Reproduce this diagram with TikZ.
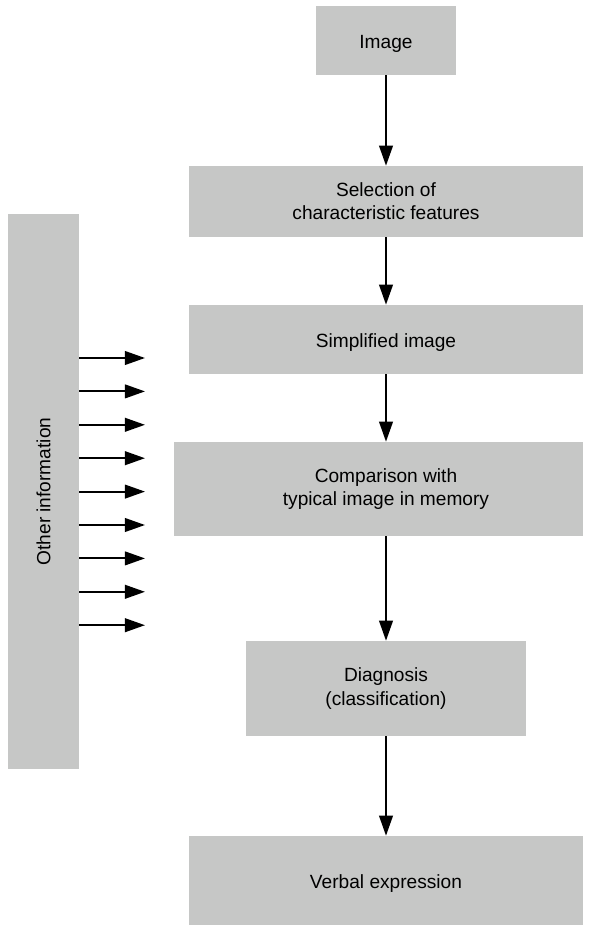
\documentclass[tikz,border=0pt]{standalone}
\usepackage{fontspec}
\setmainfont{Liberation Sans}
\usetikzlibrary{arrows.meta}
\definecolor{boxgray}{RGB}{198,199,198}

\begin{document}
\begin{tikzpicture}[x=0.025cm,y=-0.025cm,
    box/.style={fill=boxgray,inner sep=0pt,align=center,
                font=\fontsize{13.6}{16.5}\selectfont},
    single/.style={text height=12pt,text depth=1.2pt},
    flow/.style={line width=1.4pt,-{Triangle[length=0.5cm,width=0.34cm]}}]
    \useasboundingbox (0,0) rectangle (589,926);
    % Main chain
    \node[box,single,minimum width=3.5cm,minimum height=1.725cm] (image) at (386,40.5) {Image};
    \node[box,minimum width=9.85cm,minimum height=1.775cm] (select) at (386,201.5) {Selection of\\characteristic features};
    \node[box,single,minimum width=9.85cm,minimum height=1.725cm] (simple) at (386,339.5) {Simplified image};
    \node[box,minimum width=10.225cm,minimum height=2.35cm] (compare) at (378.5,489) {};
    \node[box,fill=none] (comparetext) at (386,489) {Comparison with\\typical image in memory};
    \node[box,minimum width=7cm,minimum height=2.375cm] (diagnose) at (386,688.5) {Diagnosis\\(classification)};
    \node[box,single,minimum width=9.85cm,minimum height=2.225cm] (verbal) at (386,880.5) {Verbal expression};
    % Side box
    \node[box,minimum width=13.875cm,minimum height=1.775cm,rotate=90] (other) at (43.5,491.5) {Other information};

    \draw[flow] (image) -- (select);
    \draw[flow] (select) -- (simple);
    \draw[flow] (simple) -- (compare.north -| image);
    \draw[flow] (compare.south -| image) -- (diagnose);
    \draw[flow] (diagnose) -- (verbal);

    % Inputs from the side
    \foreach \y [count=\i] in {358,391.4,424.8,458.2,491.6,525,558.4,591.8,625.2} {
        \coordinate (in\i) at (145,\y);
        \draw[flow] (in\i -| other.south) -- (in\i);
    }
\end{tikzpicture}
\end{document}
